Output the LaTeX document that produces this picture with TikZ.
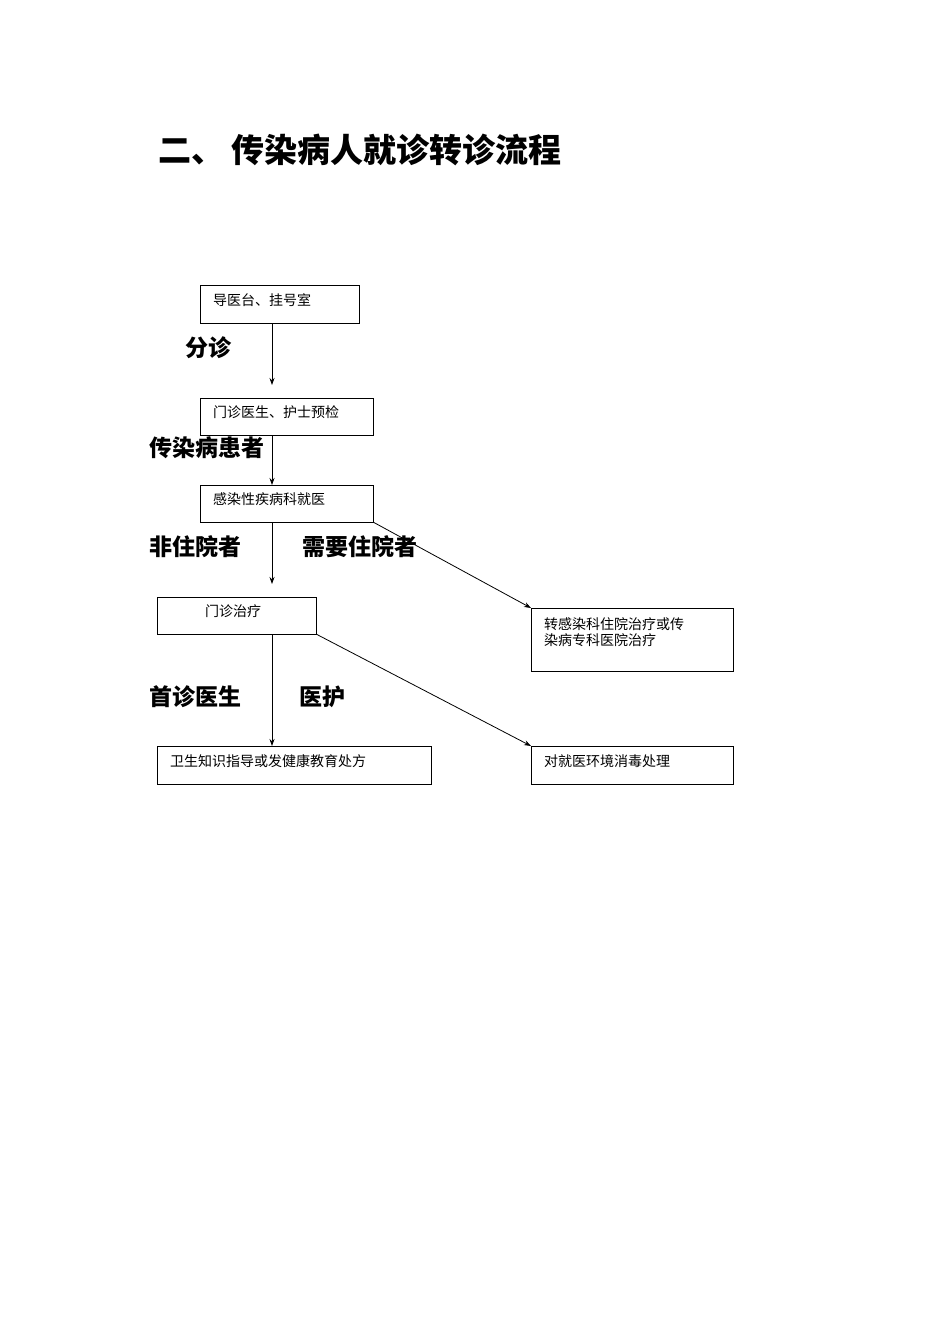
\documentclass[tikz,border=0pt]{standalone}
\usepackage{fontspec}
\newfontfamily\cjk{Noto Sans CJK SC}
\usetikzlibrary{arrows.meta}
\begin{document}
\begin{tikzpicture}[x=1pt,y=-1pt,
  bx/.style={draw,line width=0.8pt},
  bt/.style={anchor=west,font=\cjk\fontsize{14}{16}\selectfont,inner sep=0pt},
  lb/.style={font=\cjk\bfseries\fontsize{23}{26}\selectfont,inner sep=0pt},
  ar/.style={-{Stealth[length=7pt,width=5pt]},line width=0.8pt}]
\useasboundingbox (0,0) rectangle (950,1344);
\node[font=\cjk\bfseries\fontsize{33}{36}\selectfont,anchor=west,inner sep=0pt] (title) at (158,150) {二、 传染病人就诊转诊流程};
\draw[bx] (200,285) rectangle (359,323); \node[bt] (t1) at (213,300) {导医台、挂号室};
\draw[bx] (200,398) rectangle (373,435); \node[bt] (t2) at (213,412) {门诊医生、护士预检};
\draw[bx] (200,485) rectangle (373,522); \node[bt] (t3) at (213,499) {感染性疾病科就医};
\draw[bx] (157,597) rectangle (316,634); \node[bt] (t4) at (205,611) {门诊治疗};
\draw[bx] (531,608) rectangle (733,671);
\node[bt,align=left] (t5) at (544,632) {转感染科住院治疗或传\\染病专科医院治疗};
\draw[bx] (157,746) rectangle (431,784); \node[bt] (t6) at (170,761) {卫生知识指导或发健康教育处方};
\draw[bx] (531,746) rectangle (733,784); \node[bt] (t7) at (544,761) {对就医环境消毒处理};
\coordinate (a1) at (272,323); \coordinate (b1) at (272,385);
\coordinate (a2) at (272,435); \coordinate (b2) at (272,485);
\coordinate (a3) at (272,522); \coordinate (b3) at (272,584);
\coordinate (a4) at (373,522); \coordinate (b4) at (531,608);
\coordinate (a5) at (272,634); \coordinate (b5) at (272,746);
\coordinate (a6) at (316,634); \coordinate (b6) at (531,746);
\draw[ar] (a1)--(b1); \draw[ar] (a2)--(b2); \draw[ar] (a3)--(b3);
\draw[ar] (a4)--(b4); \draw[ar] (a5)--(b5); \draw[ar] (a6)--(b6);
\node[lb] (l1) at (208,348) {分诊};
\node[lb] (l2) at (207,448) {传染病患者};
\node[lb] (l3) at (195,547) {非住院者};
\node[lb] (l4) at (360,547) {需要住院者};
\node[lb] (l5) at (195,697) {首诊医生};
\node[lb] (l6) at (322,697) {医护};
\end{tikzpicture}
\end{document}
